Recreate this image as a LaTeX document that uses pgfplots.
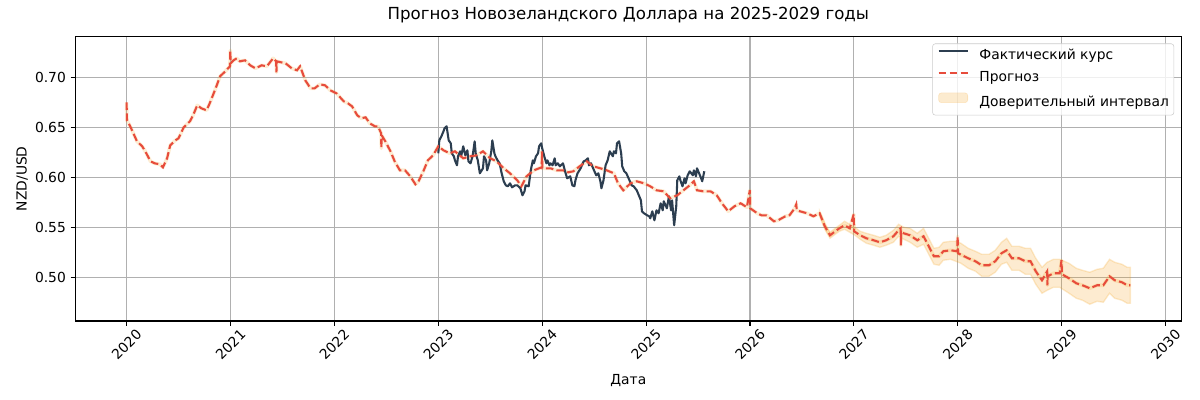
\documentclass[border=0pt]{standalone}
\usepackage{pgfplots}
\pgfplotsset{compat=1.18}
\usepackage{pgfplotstable}
\usepackage{fontspec}
\setmainfont{DejaVu Sans}

\definecolor{actual}{HTML}{2C3E50}
\definecolor{fcst}{HTML}{E74C3C}
\definecolor{band}{HTML}{F39C12}
\definecolor{gridc}{HTML}{B0B0B0}

\pgfplotsset{
  lineleg/.style={legend image code/.code={\draw[##1] (0bp,3.5bp) -- (21bp,3.5bp);}},
  boxleg/.style={legend image code/.code={\draw[##1] (0bp,0bp) rectangle (21bp,7bp);}},
}

% actual NZD/USD rate
\pgfplotstableread{
x y
2023.00 0.624
2023.01 0.637
2023.03 0.641
2023.05 0.646
2023.06 0.649
2023.08 0.651
2023.10 0.637
2023.12 0.634
2023.13 0.624
2023.15 0.621
2023.16 0.617
2023.18 0.612
2023.19 0.621
2023.21 0.626
2023.22 0.621
2023.24 0.631
2023.26 0.622
2023.28 0.627
2023.29 0.616
2023.31 0.614
2023.33 0.621
2023.35 0.636
2023.36 0.624
2023.38 0.617
2023.40 0.604
2023.43 0.609
2023.44 0.621
2023.46 0.617
2023.47 0.607
2023.49 0.614
2023.51 0.626
2023.52 0.637
2023.54 0.624
2023.55 0.621
2023.57 0.617
2023.59 0.614
2023.61 0.604
2023.63 0.596
2023.65 0.592
2023.67 0.591
2023.69 0.594
2023.71 0.590
2023.74 0.592
2023.76 0.592
2023.79 0.589
2023.81 0.582
2023.83 0.586
2023.84 0.592
2023.87 0.591
2023.89 0.607
2023.91 0.617
2023.92 0.614
2023.94 0.621
2023.96 0.624
2023.97 0.631
2023.99 0.634
2024.00 0.629
2024.02 0.621
2024.04 0.614
2024.05 0.617
2024.07 0.612
2024.08 0.614
2024.10 0.612
2024.12 0.619
2024.13 0.612
2024.15 0.614
2024.17 0.611
2024.20 0.614
2024.22 0.606
2024.24 0.599
2024.27 0.601
2024.29 0.592
2024.31 0.591
2024.32 0.597
2024.34 0.604
2024.37 0.609
2024.39 0.614
2024.40 0.616
2024.42 0.617
2024.44 0.619
2024.45 0.612
2024.47 0.614
2024.49 0.609
2024.52 0.602
2024.54 0.604
2024.56 0.596
2024.57 0.589
2024.59 0.597
2024.61 0.612
2024.63 0.617
2024.65 0.626
2024.68 0.621
2024.69 0.626
2024.71 0.624
2024.72 0.634
2024.74 0.636
2024.76 0.624
2024.77 0.611
2024.79 0.606
2024.81 0.604
2024.84 0.597
2024.86 0.592
2024.88 0.591
2024.91 0.587
2024.93 0.582
2024.95 0.577
2024.96 0.566
2024.98 0.564
2025.01 0.562
2025.03 0.561
2025.04 0.559
2025.06 0.566
2025.08 0.557
2025.10 0.567
2025.12 0.564
2025.14 0.574
2025.16 0.567
2025.17 0.576
2025.20 0.569
2025.22 0.581
2025.24 0.567
2025.25 0.577
2025.27 0.552
2025.29 0.571
2025.30 0.597
2025.32 0.601
2025.33 0.597
2025.35 0.591
2025.37 0.599
2025.38 0.594
2025.40 0.602
2025.42 0.606
2025.45 0.602
2025.46 0.607
2025.48 0.601
2025.49 0.609
2025.51 0.604
2025.53 0.599
2025.54 0.596
2025.56 0.606
}\actualtab

% forecast
\pgfplotstableread{
x y
2020.000 0.675
2020.004 0.657
2020.035 0.651
2020.10 0.636
2020.15 0.631
2020.18 0.626
2020.23 0.616
2020.27 0.614
2020.32 0.613
2020.35 0.610
2020.39 0.619
2020.42 0.632
2020.47 0.637
2020.50 0.639
2020.55 0.650
2020.61 0.656
2020.64 0.662
2020.68 0.672
2020.72 0.669
2020.77 0.667
2020.80 0.674
2020.85 0.687
2020.90 0.701
2020.95 0.706
2020.995 0.711
2020.998 0.727
2021.002 0.714
2021.03 0.717
2021.06 0.719
2021.09 0.716
2021.14 0.717
2021.19 0.712
2021.24 0.709
2021.30 0.712
2021.35 0.711
2021.41 0.719
2021.440 0.716
2021.442 0.705
2021.446 0.716
2021.53 0.714
2021.59 0.709
2021.64 0.707
2021.67 0.711
2021.72 0.697
2021.77 0.689
2021.81 0.689
2021.86 0.693
2021.91 0.692
2021.96 0.687
2022.02 0.684
2022.09 0.676
2022.13 0.674
2022.17 0.671
2022.22 0.662
2022.26 0.659
2022.30 0.660
2022.34 0.654
2022.39 0.651
2022.42 0.651
2022.450 0.644
2022.452 0.629
2022.455 0.642
2022.49 0.636
2022.54 0.626
2022.58 0.616
2022.63 0.607
2022.68 0.607
2022.73 0.601
2022.78 0.593
2022.81 0.596
2022.86 0.607
2022.90 0.617
2022.95 0.622
2023.00 0.631
2023.05 0.627
2023.11 0.624
2023.16 0.626
2023.24 0.619
2023.31 0.621
2023.37 0.622
2023.43 0.626
2023.50 0.619
2023.56 0.616
2023.63 0.609
2023.69 0.604
2023.76 0.597
2023.80 0.591
2023.85 0.601
2023.92 0.607
2023.995 0.610
2023.998 0.626
2024.002 0.609
2024.08 0.609
2024.14 0.607
2024.20 0.607
2024.25 0.605
2024.30 0.606
2024.36 0.611
2024.43 0.616
2024.49 0.611
2024.56 0.609
2024.62 0.607
2024.69 0.604
2024.73 0.594
2024.78 0.587
2024.85 0.594
2024.91 0.596
2024.98 0.594
2025.04 0.591
2025.10 0.587
2025.17 0.586
2025.23 0.579
2025.30 0.582
2025.36 0.587
2025.42 0.592
2025.46 0.596
2025.49 0.587
2025.55 0.586
2025.62 0.586
2025.68 0.582
2025.73 0.574
2025.79 0.566
2025.85 0.571
2025.91 0.574
2025.97 0.570
2025.998 0.587
2026.002 0.569
2026.07 0.564
2026.11 0.562
2026.16 0.562
2026.23 0.556
2026.27 0.557
2026.34 0.561
2026.38 0.562
2026.43 0.569
2026.445 0.573
2026.45 0.567
2026.48 0.566
2026.55 0.564
2026.61 0.561
2026.67 0.564
2026.72 0.551
2026.77 0.542
2026.82 0.546
2026.86 0.549
2026.91 0.552
2026.96 0.549
2026.998 0.563
2027.002 0.546
2027.06 0.542
2027.12 0.539
2027.19 0.537
2027.25 0.535
2027.31 0.537
2027.38 0.541
2027.43 0.547
2027.450 0.549
2027.452 0.532
2027.455 0.545
2027.48 0.544
2027.54 0.542
2027.61 0.537
2027.67 0.541
2027.72 0.531
2027.77 0.521
2027.82 0.521
2027.86 0.526
2027.93 0.527
2027.995 0.526
2027.998 0.541
2028.002 0.524
2028.10 0.519
2028.17 0.516
2028.23 0.512
2028.30 0.512
2028.36 0.516
2028.42 0.524
2028.47 0.527
2028.52 0.519
2028.59 0.519
2028.65 0.516
2028.70 0.516
2028.75 0.506
2028.81 0.497
2028.860 0.506
2028.862 0.492
2028.865 0.501
2028.92 0.504
2028.98 0.504
2028.998 0.517
2029.002 0.503
2029.07 0.499
2029.14 0.494
2029.20 0.492
2029.27 0.489
2029.34 0.492
2029.40 0.492
2029.46 0.501
2029.51 0.497
2029.58 0.495
2029.63 0.492
2029.66 0.492
}\fcsttab

% confidence interval outline: upper edge forward, lower edge back
\pgfplotstableread{
x y
2026.67 0.566
2026.72 0.554
2026.77 0.545
2026.82 0.549
2026.86 0.552
2026.91 0.556
2026.96 0.553
2027.01 0.550
2027.06 0.546
2027.12 0.544
2027.19 0.542
2027.25 0.540
2027.31 0.542
2027.38 0.547
2027.43 0.553
2027.48 0.550
2027.54 0.549
2027.61 0.544
2027.67 0.549
2027.72 0.539
2027.77 0.529
2027.82 0.530
2027.86 0.535
2027.93 0.536
2027.98 0.536
2028.03 0.534
2028.10 0.529
2028.17 0.526
2028.23 0.523
2028.30 0.523
2028.36 0.527
2028.42 0.535
2028.47 0.539
2028.52 0.531
2028.59 0.531
2028.65 0.529
2028.70 0.529
2028.75 0.519
2028.81 0.510
2028.86 0.515
2028.92 0.518
2028.98 0.518
2029.07 0.514
2029.14 0.509
2029.20 0.507
2029.27 0.505
2029.34 0.508
2029.40 0.509
2029.46 0.518
2029.51 0.515
2029.58 0.513
2029.63 0.510
2029.66 0.510
2029.66 0.474
2029.63 0.474
2029.58 0.477
2029.51 0.479
2029.46 0.484
2029.40 0.475
2029.34 0.476
2029.27 0.473
2029.20 0.477
2029.14 0.479
2029.07 0.484
2028.98 0.490
2028.92 0.490
2028.86 0.487
2028.81 0.484
2028.75 0.493
2028.70 0.503
2028.65 0.503
2028.59 0.507
2028.52 0.507
2028.47 0.515
2028.42 0.513
2028.36 0.505
2028.30 0.501
2028.23 0.501
2028.17 0.506
2028.10 0.509
2028.03 0.514
2027.98 0.516
2027.93 0.518
2027.86 0.517
2027.82 0.512
2027.77 0.513
2027.72 0.523
2027.67 0.533
2027.61 0.530
2027.54 0.535
2027.48 0.538
2027.43 0.541
2027.38 0.535
2027.31 0.532
2027.25 0.530
2027.19 0.532
2027.12 0.534
2027.06 0.538
2027.01 0.542
2026.96 0.545
2026.91 0.548
2026.86 0.546
2026.82 0.543
2026.77 0.539
2026.72 0.548
2026.67 0.562
}\bandtab

\begin{document}
\begin{tikzpicture}
\begin{axis}[
    at={(0,0)}, anchor=south west,
    scale only axis, width=796bp, height=204.8bp,
    xmin=2019.509, xmax=2030.149,
    ymin=0.4563, ymax=0.7408,
    xtick={2020,2021,2022,2023,2024,2025,2026,2027,2028,2029,2030},
    xticklabels={2020,2021,2022,2023,2024,2025,2026,2027,2028,2029,2030},
    ytick={0.5,0.55,0.6,0.65,0.7},
    yticklabel style={/pgf/number format/fixed, /pgf/number format/fixed zerofill,
        /pgf/number format/precision=2, /pgf/number format/assume math mode=true},
    xticklabel style={rotate=45, anchor=center},
    xticklabel shift=13.5bp,
    tick pos=left, tick align=outside,
    major tick length=3.5bp,
    major tick style={black, line width=0.8bp},
    axis line style={line width=0.8bp},
    grid=major,
    major grid style={gridc, line width=0.8bp},
    title={\fontsize{12}{14}\selectfont Прогноз Новозеландского Доллара на 2025-2029 годы},
    title style={at={(axis description cs:0.5,1)}, anchor=base, yshift=6bp},
    xlabel={Дата},
    xlabel style={at={(axis description cs:0.5,-0.21)}, anchor=center},
    ylabel={NZD/USD},
    ylabel style={at={(axis description cs:-0.0484,0.5)}, anchor=center},
    legend cell align=left,
    legend style={at={(axis description cs:1,1)}, anchor=north east,
        xshift=-5bp, yshift=-5bp,
        draw=black!20, rounded corners=2bp,
        fill=white, fill opacity=0.8, text opacity=1,
        inner xsep=3.6bp, inner ysep=4bp,
        column sep=7.6bp, row sep=5.6bp,
        nodes={inner sep=0pt, text height=7.5bp, text depth=2.5bp}},
]
\addplot[fill=band, fill opacity=0.2, draw=band, draw opacity=0.2, line width=1bp, forget plot]
    table {\bandtab} -- cycle;
\addplot[band, line width=2.6bp, draw opacity=0.18, line join=round, forget plot] table {\fcsttab};
\addplot[actual, line width=1.5bp, line join=round, forget plot] table {\actualtab};
\addplot[fcst, line width=1.5bp, dash pattern=on 5.55bp off 2.4bp, forget plot] table {\fcsttab};

\addlegendimage{actual, line width=1.5bp, lineleg}
\addlegendentry{Фактический курс}
\addlegendimage{fcst, line width=1.5bp, dash pattern=on 5.55bp off 2.4bp, lineleg}
\addlegendentry{Прогноз}
\addlegendimage{fill=band, fill opacity=0.2, draw=band, draw opacity=0.2, boxleg}
\addlegendentry{Доверительный интервал}
\end{axis}
\pgfresetboundingbox
\useasboundingbox (-54.4bp,-56.9bp) rectangle (809.6bp,231.1bp);
\end{tikzpicture}
\end{document}
